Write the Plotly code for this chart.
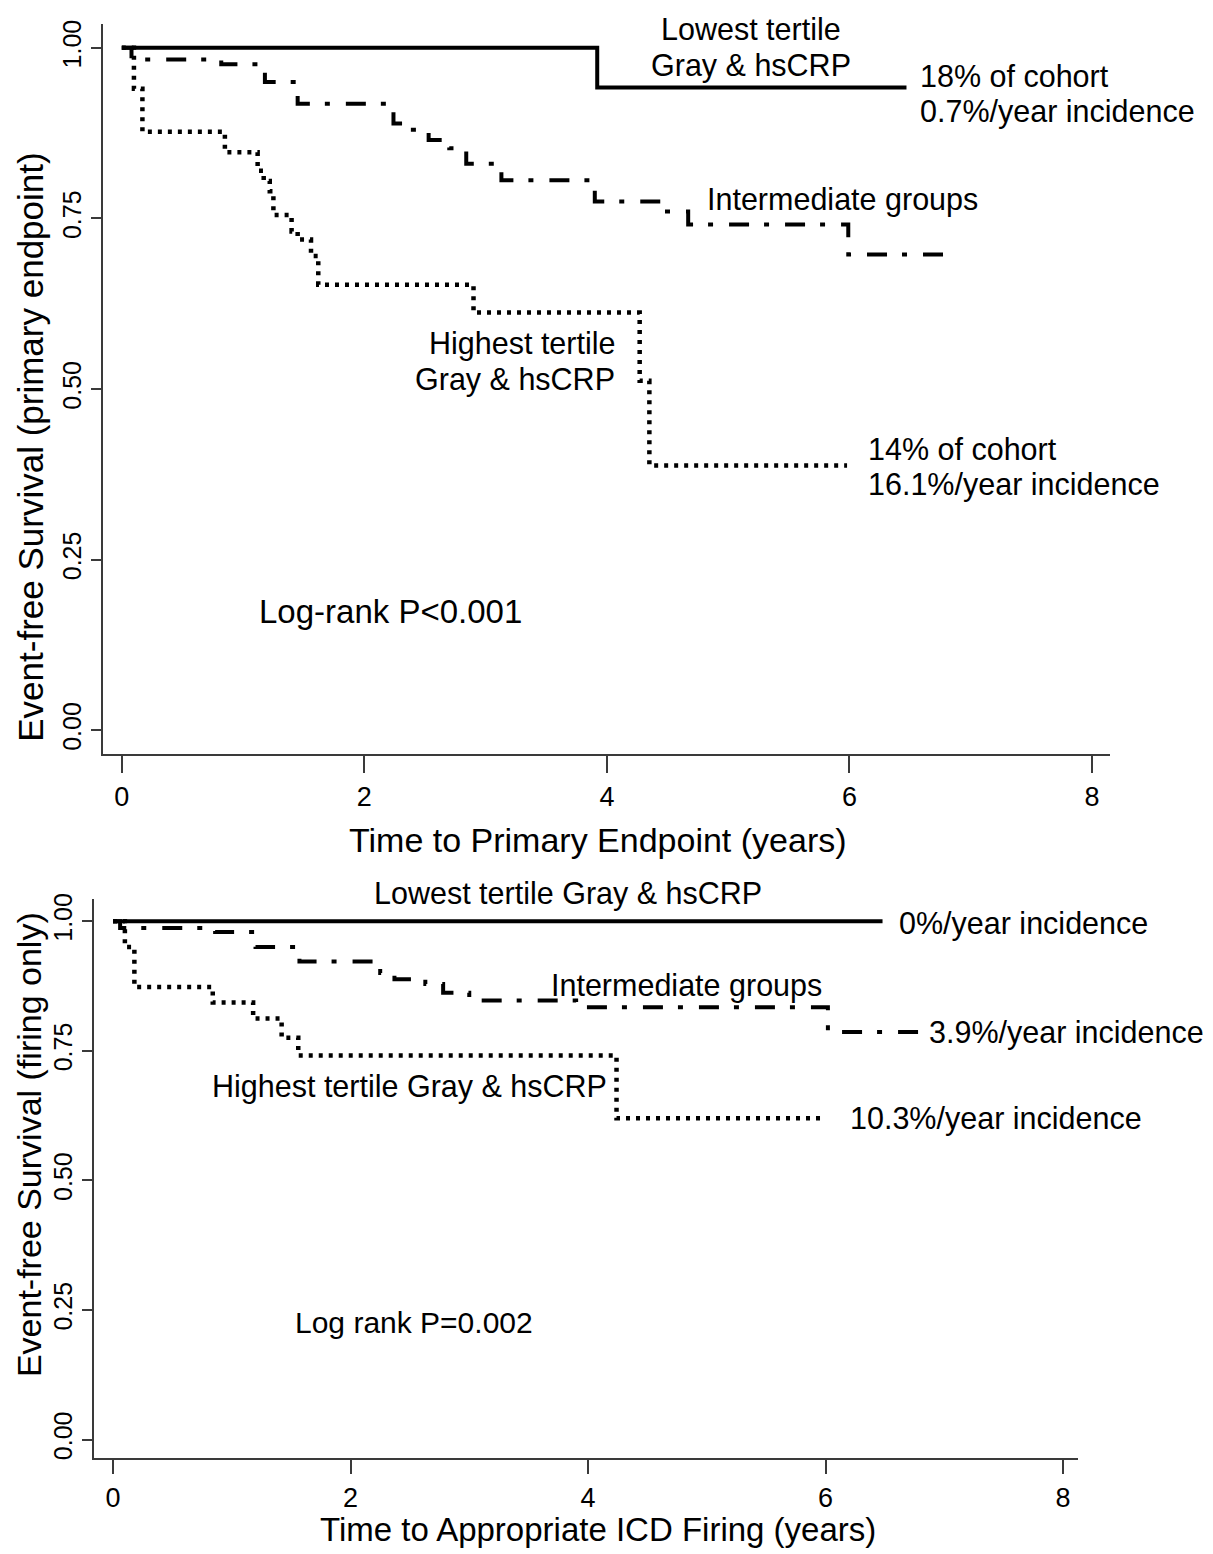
import plotly.graph_objects as go

# ---------------- data ----------------
# Top panel: time to primary endpoint (years) / event-free survival
top_low_t = [0, 3.92, 6.47]
top_low_s = [1.0, 0.942, 0.942]

top_mid_t = [0, 0.08, 0.82, 1.18, 1.45, 2.24, 2.40, 2.53, 2.70, 2.84, 3.13, 3.90, 4.45, 4.67, 5.99, 6.80]
top_mid_s = [1.0, 0.983, 0.976, 0.950, 0.918, 0.889, 0.880, 0.865, 0.853, 0.830, 0.806, 0.775, 0.760, 0.741, 0.697, 0.697]

top_hi_t = [0, 0.10, 0.17, 0.85, 1.12, 1.17, 1.22, 1.25, 1.40, 1.45, 1.56, 1.62, 2.90, 4.27, 4.35, 5.98]
top_hi_s = [1.0, 0.94, 0.877, 0.847, 0.82, 0.805, 0.79, 0.755, 0.731, 0.719, 0.695, 0.653, 0.612, 0.512, 0.388, 0.388]

# Bottom panel: time to appropriate ICD firing (years)
bot_low_t = [0, 6.48]
bot_low_s = [1.0, 1.0]

bot_mid_t = [0, 0.06, 0.86, 1.20, 1.57, 2.25, 2.37, 2.63, 2.78, 3.00, 3.90, 6.02, 6.80]
bot_mid_s = [1.0, 0.987, 0.979, 0.950, 0.922, 0.900, 0.888, 0.879, 0.862, 0.847, 0.834, 0.786, 0.786]

bot_hi_t = [0, 0.10, 0.18, 0.84, 1.18, 1.42, 1.56, 4.24, 6.00]
bot_hi_s = [1.0, 0.95, 0.873, 0.843, 0.812, 0.775, 0.741, 0.62, 0.62]

x_ticks = [0, 2, 4, 6, 8]
y_ticks = [0.0, 0.25, 0.5, 0.75, 1.0]
y_tick_text = ["0.00", "0.25", "0.50", "0.75", "1.00"]

# ---------------- figure ----------------
OFF = 8  # page body margin
W, H = 1213 - OFF, 1554 - OFF
FONT = "Liberation Sans, Arial, sans-serif"

def px(x):
    return (x - OFF) / W

def py(y):
    return 1 - (y - OFF) / H

fig = go.Figure()

solid = dict(color="black", width=4)
dashdot = dict(color="black", width=4, dash="20px,15px,5px,16px")
dotted = dict(color="black", width=4.5, dash="4px,6px")

for t, s, ln, xa, ya in [
    (top_low_t, top_low_s, solid, "x", "y"),
    (top_mid_t, top_mid_s, dashdot, "x", "y"),
    (top_hi_t, top_hi_s, dotted, "x", "y"),
    (bot_low_t, bot_low_s, solid, "x2", "y2"),
    (bot_mid_t, bot_mid_s, dashdot, "x2", "y2"),
    (bot_hi_t, bot_hi_s, dotted, "x2", "y2"),
]:
    fig.add_trace(go.Scatter(x=t, y=s, mode="lines", line=dict(shape="hv", **ln),
                             xaxis=xa, yaxis=ya, showlegend=False, hoverinfo="skip"))

axis_common = dict(showgrid=False, zeroline=False, showline=True, ticks="outside",
                   linecolor="#3a3a3a", linewidth=2, tickcolor="#3a3a3a")

fig.update_layout(
    width=W, height=H,
    margin=dict(l=0, r=0, t=0, b=0),
    paper_bgcolor="white", plot_bgcolor="white",
    font=dict(family=FONT, color="black"),
    showlegend=False,
    xaxis=dict(domain=[px(103), px(1110)], range=[-0.155, 8.148], anchor="y",
               tickvals=x_ticks, ticklen=17, tickwidth=1.5,
               tickfont=dict(size=27), **axis_common),
    yaxis=dict(domain=[py(752), py(18)], range=[-0.035, 1.035], anchor="x",
               tickvals=y_ticks, ticktext=y_tick_text, tickangle=-90, ticklen=10, tickwidth=1.5,
               tickfont=dict(size=25), **axis_common),
    xaxis2=dict(domain=[px(94), px(1078)], range=[-0.16, 8.126], anchor="y2",
                tickvals=x_ticks, ticklen=14, tickwidth=1.5,
                tickfont=dict(size=27), **axis_common),
    yaxis2=dict(domain=[py(1460), py(898)], range=[-0.0365, 1.042], anchor="x2",
                tickvals=y_ticks, ticktext=y_tick_text, tickangle=-90, ticklen=10, tickwidth=1.5,
                tickfont=dict(size=25), **axis_common),
)

def note(text, x, y, xanchor="left", size=30.5, angle=0):
    fig.add_annotation(text=text, x=px(x), y=py(y), xref="paper", yref="paper",
                       xanchor=xanchor, yanchor="middle", showarrow=False,
                       textangle=angle, font=dict(size=size, family=FONT, color="black"))

# top panel texts
note("Lowest tertile", 751, 23, "center")
note("Gray &amp; hsCRP", 751, 60, "center")
note("18% of cohort", 918, 70)
note("0.7%/year incidence", 918, 106)
note("Intermediate groups", 705, 194)
note("Highest tertile", 617, 339, "right")
note("Gray &amp; hsCRP", 617, 375, "right")
note("14% of cohort", 866, 445)
note("16.1%/year incidence", 866, 481)
note("Log-rank P&lt;0.001", 257, 609, size=33)
note("Event-free Survival (primary endpoint)", 31, 444, "center", size=35, angle=-90)
note("Time to Primary Endpoint (years)", 598, 838, "center", size=34)

# bottom panel texts
note("Lowest tertile Gray &amp; hsCRP", 568, 892, "center")
note("0%/year incidence", 897, 922)
note("Intermediate groups", 549, 985)
note("3.9%/year incidence", 927, 1032)
note("Highest tertile Gray &amp; hsCRP", 210, 1086)
note("10.3%/year incidence", 848, 1118)
note("Log rank P=0.002", 293, 1323, size=30)
note("Event-free Survival (firing only)", 29, 1145, "center", size=34, angle=-90)
note("Time to Appropriate ICD Firing (years)", 598, 1531, "center", size=33)

fig.write_html("out.html")
